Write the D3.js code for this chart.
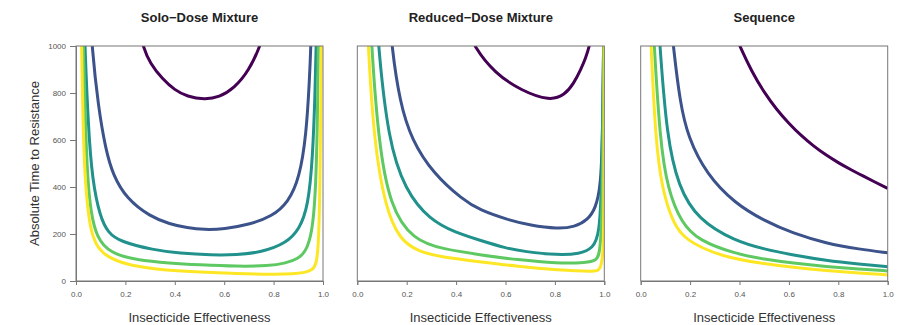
<!DOCTYPE html>
<html>
<head>
<meta charset="utf-8">
<script src="https://cdn.jsdelivr.net/npm/d3@7"></script>
<style>
  body { margin: 0; background: #fff; }
  svg { font-family: "Liberation Sans", Arial, sans-serif; }
</style>
</head>
<body>
<script>
// panel titles and series colours (viridis, 5 levels)
const panelTitles = ["Solo\u2212Dose Mixture", "Reduced\u2212Dose Mixture", "Sequence"];
const doseColors = ["#440154", "#3b528b", "#21918c", "#5ec962", "#fde725"];
const xTicks = [0, 0.2, 0.4, 0.6, 0.8, 1.0];
const yTicks = [0, 200, 400, 600, 800, 1000];

// [effectiveness, time to resistance], one array per curve
const soloDose = [
  [[0.255,1080],[0.27,1000],[0.3,925],[0.35,860],[0.4,812],[0.45,785],[0.52,772],[0.58,782],[0.64,820],[0.7,895],[0.746,1000],[0.76,1060]],
  [[0.058,1150],[0.064,1000],[0.09,742],[0.12,560],[0.15,450],[0.205,350],[0.3,274],[0.38,242],[0.45,226],[0.52,218],[0.6,221],[0.7,240],[0.793,274],[0.86,335],[0.905,440],[0.932,620],[0.945,850],[0.951,1000],[0.954,1150]],
  [[0.032,1150],[0.036,1000],[0.05,650],[0.066,430],[0.097,274],[0.13,205],[0.178,168],[0.313,132],[0.42,118],[0.55,110],[0.65,111],[0.75,122],[0.85,160],[0.905,220],[0.94,320],[0.958,520],[0.968,800],[0.972,1000],[0.976,1150]],
  [[0.026,1150],[0.03,1000],[0.043,470],[0.06,290],[0.084,185],[0.138,118],[0.246,89],[0.38,76],[0.5,69],[0.65,62],[0.78,64],[0.85,76],[0.9,95],[0.93,125],[0.955,200],[0.97,360],[0.978,700],[0.981,1000],[0.983,1150]],
  [[0.02,1150],[0.023,1000],[0.031,470],[0.057,203],[0.09,140],[0.124,103],[0.219,63],[0.37,45],[0.5,38],[0.65,32],[0.8,28],[0.88,30],[0.928,36],[0.955,46],[0.972,65],[0.983,150],[0.989,500],[0.993,1000],[0.995,1150]]
];

const reducedDose = [
  [[0.46,1050],[0.471,1000],[0.556,884],[0.664,810],[0.78,766],[0.84,792],[0.876,840],[0.905,900],[0.925,950],[0.94,1000],[0.948,1050]],
  [[0.13,1150],[0.139,1000],[0.172,760],[0.22,600],[0.307,458],[0.428,345],[0.495,302],[0.61,260],[0.7,237],[0.811,222],[0.88,230],[0.933,260],[0.965,310],[0.985,400],[0.993,600],[0.997,1000],[0.999,1150]],
  [[0.078,1150],[0.085,1000],[0.125,600],[0.193,387],[0.293,260],[0.4,205],[0.495,174],[0.6,140],[0.677,125],[0.81,110],[0.9,115],[0.955,140],[0.98,200],[0.99,400],[0.997,1000],[0.999,1150]],
  [[0.052,1150],[0.058,1000],[0.085,600],[0.132,316],[0.226,174],[0.35,135],[0.495,112],[0.65,90],[0.81,75],[0.93,78],[0.967,88],[0.985,115],[0.994,400],[0.998,1000],[1.0,1150]],
  [[0.039,1150],[0.044,1000],[0.067,600],[0.112,316],[0.172,174],[0.25,125],[0.334,103],[0.495,82],[0.65,62],[0.81,47],[0.96,40],[0.985,45],[0.996,120],[0.999,300],[1.0,1150]]
];

const sequence = [
  [[0.39,1030],[0.401,1000],[0.45,890],[0.5,802],[0.55,730],[0.6,670],[0.65,618],[0.7,574],[0.75,536],[0.8,503],[0.85,474],[0.9,447],[0.95,420],[1.0,394]],
  [[0.125,1080],[0.132,1000],[0.159,760],[0.192,610],[0.266,455],[0.381,330],[0.502,255],[0.616,203],[0.751,160],[0.886,135],[1.0,120]],
  [[0.073,1080],[0.078,1000],[0.105,620],[0.152,400],[0.233,260],[0.381,170],[0.502,135],[0.616,111],[0.751,87],[0.886,72],[1.0,61]],
  [[0.051,1080],[0.055,1000],[0.078,600],[0.109,390],[0.166,245],[0.233,174],[0.381,116],[0.502,92],[0.616,76],[0.751,61],[0.886,50],[1.0,43]],
  [[0.039,1080],[0.042,1000],[0.06,600],[0.087,387],[0.132,245],[0.179,174],[0.327,103],[0.502,73],[0.616,58],[0.751,44],[0.886,33],[1.0,26]]
];

const panels = [soloDose, reducedDose, sequence];

let width = 910;
let height = 325;

const svg = d3.select("body").append("svg")
  .attr("width", width)
  .attr("height", height);

const panelLeft = [76, 357.3, 640.7];
const plotW = 247;
const plotTop = 46;
const plotH = 235;
const axisGray = "#777";

const y = d3.scaleLinear().domain([0, 1000]).range([plotTop + plotH, plotTop]);

panels.forEach((series, i) => {
  const x = d3.scaleLinear().domain([0, 1]).range([panelLeft[i], panelLeft[i] + plotW]);

  const g = svg.append("g");

  svg.append("clipPath")
    .attr("id", `clip-${i}`)
    .append("rect")
    .attr("x", x(0))
    .attr("y", y(1000))
    .attr("width", plotW)
    .attr("height", plotH);

  const line = d3.line()
    .x(d => x(d[0]))
    .y(d => y(d[1]))
    .curve(d3.curveBasis);

  g.append("g")
    .attr("clip-path", `url(#clip-${i})`)
    .selectAll("path")
    .data(series)
    .join("path")
    .attr("fill", "none")
    .attr("stroke", (d, j) => doseColors[j])
    .attr("stroke-width", 3)
    .attr("stroke-linejoin", "round")
    .attr("d", line);

  // box
  g.append("rect")
    .attr("x", x(0))
    .attr("y", y(1000))
    .attr("width", plotW)
    .attr("height", plotH)
    .attr("fill", "none")
    .attr("stroke", axisGray)
    .attr("stroke-width", 1);

  const xAxis = g.append("g")
    .attr("transform", `translate(0,${y(0)})`)
    .call(d3.axisBottom(x).tickValues(xTicks).tickFormat(d3.format(".1f")).tickSize(4).tickPadding(6));
  xAxis.select(".domain").attr("stroke", axisGray);
  xAxis.selectAll(".tick line").attr("stroke", axisGray);
  xAxis.selectAll("text").attr("fill", "#555").style("font-size", "8px");

  if (i === 0) {
    const yAxis = g.append("g")
      .attr("transform", `translate(${x(0)},0)`)
      .call(d3.axisLeft(y).tickValues(yTicks).tickFormat(d3.format("d")).tickSize(6).tickPadding(4));
    yAxis.select(".domain").attr("stroke", axisGray);
    yAxis.selectAll(".tick line").attr("stroke", axisGray);
    yAxis.selectAll("text").attr("fill", "#555").style("font-size", "8px");

    g.append("text")
      .attr("transform", `translate(39,${plotTop + plotH / 2}) rotate(-90)`)
      .attr("text-anchor", "middle")
      .attr("fill", "#333")
      .style("font-size", "13px")
      .text("Absolute Time to Resistance");
  }

  g.append("text")
    .attr("x", x(0.5))
    .attr("y", 22)
    .attr("text-anchor", "middle")
    .attr("fill", "#222")
    .style("font-size", "13px")
    .style("font-weight", "bold")
    .text(panelTitles[i]);

  g.append("text")
    .attr("x", x(0.5))
    .attr("y", 322)
    .attr("text-anchor", "middle")
    .attr("fill", "#333")
    .style("font-size", "13px")
    .text("Insecticide Effectiveness");
});
</script>
</body>
</html>
